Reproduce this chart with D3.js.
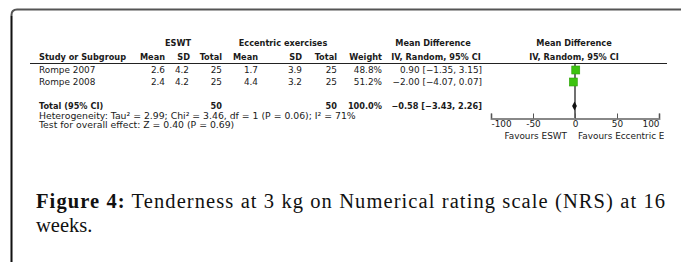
<!DOCTYPE html>
<html>
<head>
<meta charset="utf-8">
<script src="https://cdn.jsdelivr.net/npm/d3@7"></script>
<style>
  body { margin: 0; background: #fff; }
  svg { display: block; }
  .t { font-family: "DejaVu Sans", sans-serif; font-size: 8.9px; fill: #1a1a1a; }
  .b { font-weight: bold; font-size: 8.2px; }
  .h { font-family: "DejaVu Sans", sans-serif; font-size: 9.3px; fill: #1a1a1a; }
  .cap { font-family: "Liberation Serif", serif; font-size: 20.5px; fill: #111; }
</style>
</head>
<body>
<div id="chart"></div>
<script>
// study data
const studies = ['Rompe 2007', 'Rompe 2008'];
const eswtMean = ['2.6', '2.4'];
const eswtSD = ['4.2', '4.2'];
const eswtTotal = ['25', '25'];
const eccMean = ['1.7', '4.4'];
const eccSD = ['3.9', '3.2'];
const eccTotal = ['25', '25'];
const weights = ['48.8%', '51.2%'];
const md = [0.90, -2.00];
const mdLow = [-1.35, -4.07];
const mdHigh = [3.15, 0.07];

// pooled result
const pooled = { eswtTotal: '50', eccTotal: '50', weight: '100.0%', md: -0.58, low: -3.43, high: 2.26 };
const axisTicks = [-100, -50, 0, 50, 100];

const fmt = d3.format('.2f');
const ciText = (m, l, h) => `${fmt(m)} [${fmt(l)}, ${fmt(h)}]`.replace(/-/g, '\u2212');

const width = 681, height = 262;
const svg = d3.select('#chart').append('svg')
    .attr('width', width)
    .attr('height', height);

// frame: rounded corner top-left, runs off the right and bottom
svg.append('path')
    .attr('d', 'M11.5,262 L11.5,15 Q11.5,9.5 17,9.5 L681,9.5')
    .attr('fill', 'none')
    .attr('stroke', '#555')
    .attr('stroke-width', 2);
svg.append('line')
    .attr('x1', 11.5).attr('x2', 11.5).attr('y1', 16).attr('y2', 262)
    .attr('stroke', '#111').attr('stroke-width', 1.5);

const x = d3.scaleLinear().domain([-100, 100]).range([491, 659]);
const rowY = d3.scalePoint().domain(studies).range([70, 82]);

function txt(xp, yp, s, anchor, bold) {
    return svg.append('text')
        .attr('class', bold ? 't b' : 't')
        .attr('x', xp)
        .attr('y', yp)
        .attr('text-anchor', anchor || 'start')
        .text(s);
}

// group headers
txt(178, 46, 'ESWT', 'middle', true);
txt(283, 46, 'Eccentric exercises', 'middle', true);
txt(433, 46, 'Mean Difference', 'middle', true);
txt(574, 46, 'Mean Difference', 'middle', true);

// column headers
txt(39, 60, 'Study or Subgroup', 'start', true);
txt(165, 60, 'Mean', 'end', true);
txt(190, 60, 'SD', 'end', true);
txt(222, 60, 'Total', 'end', true);
txt(258, 60, 'Mean', 'end', true);
txt(302, 60, 'SD', 'end', true);
txt(337, 60, 'Total', 'end', true);
txt(382, 60, 'Weight', 'end', true);
txt(436, 60, 'IV, Random, 95% CI', 'middle', true);
txt(574, 60, 'IV, Random, 95% CI', 'middle', true);

svg.append('line')
    .attr('x1', 30).attr('x2', 667).attr('y1', 63.5).attr('y2', 63.5)
    .attr('stroke', '#222').attr('stroke-width', 1);

// study rows
studies.forEach((s, i) => {
    const yb = rowY(s) + 3;
    txt(39, yb, s);
    txt(165, yb, eswtMean[i], 'end');
    txt(189, yb, eswtSD[i], 'end');
    txt(222, yb, eswtTotal[i], 'end');
    txt(258, yb, eccMean[i], 'end');
    txt(302, yb, eccSD[i], 'end');
    txt(337, yb, eccTotal[i], 'end');
    txt(382, yb, weights[i], 'end');
    txt(482, yb, ciText(md[i], mdLow[i], mdHigh[i]), 'end');
});

// total row
const totY = 106;
txt(39, totY + 3, 'Total (95% CI)', 'start', true);
txt(222, totY + 3, pooled.eswtTotal, 'end', true);
txt(337, totY + 3, pooled.eccTotal, 'end', true);
txt(382, totY + 3, pooled.weight, 'end', true);
txt(482, totY + 3, ciText(pooled.md, pooled.low, pooled.high), 'end', true);

txt(39, 118.5, 'Heterogeneity: Tau² = 2.99; Chi² = 3.46, df = 1 (P = 0.06); I² = 71%').attr('class', 'h');
txt(39, 127.5, 'Test for overall effect: Z = 0.40 (P = 0.69)').attr('class', 'h');

// line of no effect
svg.append('line')
    .attr('x1', x(0)).attr('x2', x(0)).attr('y1', 63.5).attr('y2', 118)
    .attr('stroke', '#111').attr('stroke-width', 1.2);

// CI lines (tiny at this scale)
svg.selectAll('.ci')
    .data(studies)
    .enter().append('line')
    .attr('x1', (d, i) => x(mdLow[i]))
    .attr('x2', (d, i) => x(mdHigh[i]))
    .attr('y1', d => rowY(d))
    .attr('y2', d => rowY(d))
    .attr('stroke', '#111');

svg.selectAll('.sq')
    .data(studies)
    .enter().append('rect')
    .attr('x', (d, i) => x(md[i]) - 4)
    .attr('y', d => rowY(d) - 4)
    .attr('width', 8)
    .attr('height', 8)
    .attr('fill', '#3cc30f')
    .attr('stroke', '#2ea00a')
    .attr('stroke-width', 0.6);

// pooled diamond
svg.append('path')
    .attr('d', `M${x(pooled.low)},${totY} L${x(pooled.md)},${totY - 4.5} L${x(pooled.high)},${totY} L${x(pooled.md)},${totY + 4.5} Z`)
    .attr('fill', '#111');

// axis
const ax = svg.append('g')
    .attr('transform', 'translate(0,118.5)')
    .call(d3.axisBottom(x).tickValues(axisTicks).tickSize(-5).tickPadding(1)
        .tickFormat(d => String(d)));
ax.select('.domain').attr('stroke', '#888').attr('stroke-width', 1.8);
ax.selectAll('.tick line').attr('stroke', '#555');
ax.selectAll('.tick text')
    .attr('class', 't')
    .attr('dy', '0.85em')
    .attr('text-anchor', (d, i) => i === 0 ? 'start' : (i === axisTicks.length - 1 ? 'end' : 'middle'));

svg.append('clipPath').attr('id', 'fclip')
    .append('rect').attr('x', 0).attr('y', 130).attr('width', 664).attr('height', 20);
txt(567, 138.5, 'Favours ESWT', 'end');
txt(578, 138.5, 'Favours Eccentric Exercises', 'start').attr('clip-path', 'url(#fclip)');

// caption
const cap = svg.append('text')
    .attr('class', 'cap')
    .attr('x', 36)
    .attr('y', 208)
    .attr('textLength', 629)
    .attr('lengthAdjust', 'spacing');
cap.append('tspan').attr('font-weight', 'bold').text('Figure 4:');
cap.append('tspan').text(' Tenderness at 3 kg on Numerical rating scale (NRS) at 16');
svg.append('text')
    .attr('class', 'cap')
    .attr('x', 36)
    .attr('y', 232)
    .text('weeks.');
</script>
</body>
</html>
